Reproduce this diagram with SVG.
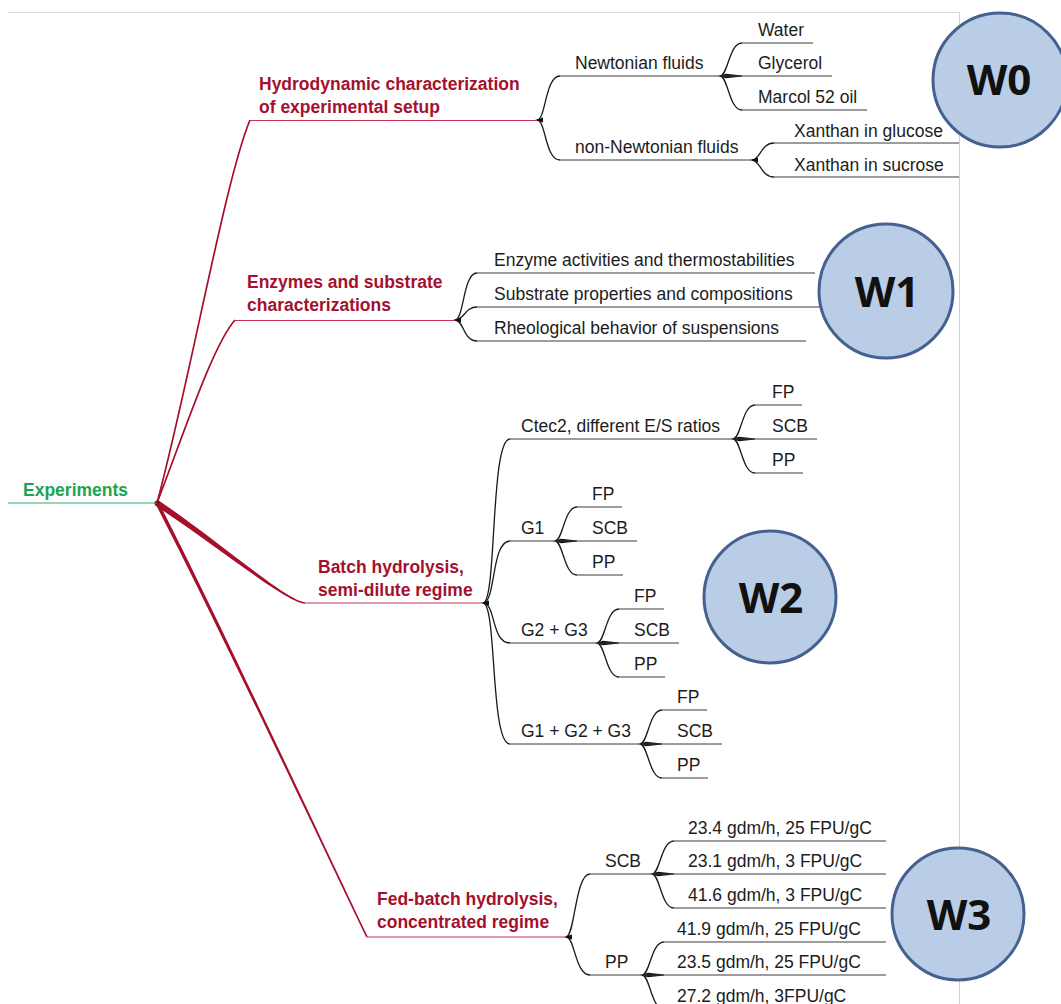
<svg xmlns="http://www.w3.org/2000/svg" width="1061" height="1004" viewBox="0 0 1061 1004">
<style>
.t{font-family:"Liberation Sans",Arial,sans-serif;font-size:17.5px;fill:#1c1c1c}
.m{font-family:"Liberation Sans",Arial,sans-serif;font-size:17.5px;font-weight:bold;fill:#a3112e}
.r{font-family:"Liberation Sans",Arial,sans-serif;font-size:17.5px;font-weight:bold;fill:#1aa550}
.u{stroke:#3a3a3a;stroke-width:1;fill:none}
.mu{stroke:#c43658;stroke-width:1.2;fill:none}
.cv{stroke:#1a1a1a;stroke-width:1.3;fill:none}
.rb{stroke:#a50f2b;fill:none}
.rf{fill:#a50f2b}
.wg{fill:#111}
.wc{fill:#b9cde6;stroke:#44618f;stroke-width:3}
.wt{font-family:"Open Sans","Liberation Sans",sans-serif;font-weight:700;font-size:42px;fill:#111;text-anchor:middle}
</style>
<rect width="1061" height="1004" fill="#fff"/>
<g id="frame">
<line x1="8" y1="12.5" x2="959" y2="12.5" stroke="#dcdcdc" stroke-width="1"/>
<line x1="959.5" y1="12" x2="959.5" y2="1004" stroke="#d0d0d0" stroke-width="1"/>
</g>

<g id="connectors">
<!-- root branches -->
<path class="rb" stroke-width="1.7" d="M157,503 C190,380 225,180 250,120"/>
<path class="rb" stroke-width="1.7" d="M157,503 C185,430 213,345 235,320"/>
<path class="rf" d="M158.7,500.5 C221.4,542.9 285.1,600 305,602.3 L305,603.7 C284.9,602 218.6,547.1 155.3,505.5 Z"/>
<path class="rf" d="M158.6,502.2 C216.4,614.3 330.7,859.6 367.7,936.6 L366.3,937.4 C329.3,860.4 213.6,615.7 155.4,503.8 Z"/>
<circle cx="157" cy="503" r="2.6" fill="#8c0a22"/>

<!-- hydro fork -->
<path class="cv" d="M537,120 C546,120 545,76 560,76"/>
<path class="cv" d="M537,120 C546,120 545,160 560,160"/>
<path class="wg" d="M535,120 L543,117.5 L543,122.5 Z"/>
<!-- newtonian fork -->
<path class="cv" d="M720,76 C728,76 729,43 742,43"/>
<path class="cv" d="M720,76 C728,76 729,110 742,110"/>
<path class="wg" d="M718,76 L726,73.8 L742,75.4 L742,76.6 L726,78.2 Z"/>
<!-- non-newtonian fork -->
<path class="cv" d="M752,160 C760,160 761,143 774,143"/>
<path class="cv" d="M752,160 C760,160 761,177 774,177"/>
<path class="wg" d="M750,160 L758,157.8 L758,162.2 Z"/>

<!-- enzymes fork -->
<path class="cv" d="M455,320 C464,320 463,273 477,273"/>
<path class="cv" d="M455,320 C464,320 465,307 477,307"/>
<path class="cv" d="M455,320 C464,320 463,341 477,341"/>
<path class="wg" d="M453,320 L461,317.5 L461,322.5 Z"/>

<!-- batch fork -->
<path class="cv" d="M483,603 C497,603 490,439 510,439"/>
<path class="cv" d="M483,603 C496,603 491,541 510,541"/>
<path class="cv" d="M483,603 C496,603 491,643 510,643"/>
<path class="cv" d="M483,603 C497,603 490,744 510,744"/>
<path class="wg" d="M481,603 L489,600.5 L489,605.5 Z"/>
<!-- ctec2 fork -->
<path class="cv" d="M733,439 C741,439 742,405 755,405"/>
<path class="cv" d="M733,439 C741,439 742,473 755,473"/>
<path class="wg" d="M731,439 L739,436.8 L755,438.4 L755,439.6 L739,441.2 Z"/>
<!-- g1 fork -->
<path class="cv" d="M555,541 C563,541 564,507 577,507"/>
<path class="cv" d="M555,541 C563,541 564,575 577,575"/>
<path class="wg" d="M553,541 L561,538.8 L577,540.4 L577,541.6 L561,543.2 Z"/>
<!-- g2g3 fork -->
<path class="cv" d="M597,643 C605,643 606,609 619,609"/>
<path class="cv" d="M597,643 C605,643 606,677 619,677"/>
<path class="wg" d="M595,643 L603,640.8 L619,642.4 L619,643.6 L603,645.2 Z"/>
<!-- g1g2g3 fork -->
<path class="cv" d="M640,744 C648,744 649,710 662,710"/>
<path class="cv" d="M640,744 C648,744 649,778 662,778"/>
<path class="wg" d="M638,744 L646,741.8 L662,743.4 L662,744.6 L646,746.2 Z"/>

<!-- fed-batch fork -->
<path class="cv" d="M566,937 C575,937 575,874 590,874"/>
<path class="cv" d="M566,937 C575,937 575,975 590,975"/>
<path class="wg" d="M564,937 L572,934.5 L572,939.5 Z"/>
<!-- scb fork -->
<path class="cv" d="M652,874 C660,874 661,841 674,841"/>
<path class="cv" d="M652,874 C660,874 661,908 674,908"/>
<path class="wg" d="M650,874 L658,871.8 L674,873.4 L674,874.6 L658,876.2 Z"/>
<!-- pp fork -->
<path class="cv" d="M642,975 C650,975 651,942 664,942"/>
<path class="cv" d="M642,975 C650,975 651,1009 664,1009"/>
<path class="wg" d="M640,975 L648,972.8 L664,974.4 L664,975.6 L648,977.2 Z"/>
</g>

<g id="n-root">
<line x1="8" y1="503" x2="157" y2="503" stroke="#2bb36a" stroke-width="1.2"/>
<text class="r" x="23" y="496">Experiments</text>
</g>

<g id="n-hydro">
<line class="mu" x1="250" y1="120.5" x2="537" y2="120.5"/>
<text class="m" x="259" y="90">Hydrodynamic characterization</text>
<text class="m" x="259" y="113">of experimental setup</text>
</g>
<g id="n-newtonian"><line class="u" x1="560" y1="76" x2="720" y2="76"/><text class="t" x="575" y="69">Newtonian fluids</text></g>
<g id="n-water"><line class="u" x1="742" y1="43" x2="813" y2="43"/><text class="t" x="758" y="36">Water</text></g>
<g id="n-glycerol"><line class="u" x1="720" y1="76" x2="832" y2="76"/><text class="t" x="758" y="69">Glycerol</text></g>
<g id="n-marcol"><line class="u" x1="742" y1="110" x2="867" y2="110"/><text class="t" x="758" y="103">Marcol 52 oil</text></g>
<g id="n-nonnewtonian"><line class="u" x1="560" y1="160" x2="752" y2="160"/><text class="t" x="575" y="153">non-Newtonian fluids</text></g>
<g id="n-xglucose"><line class="u" x1="774" y1="143" x2="959" y2="143"/><text class="t" x="794" y="137">Xanthan in glucose</text></g>
<g id="n-xsucrose"><line class="u" x1="774" y1="177" x2="959" y2="177"/><text class="t" x="794" y="171">Xanthan in sucrose</text></g>

<g id="n-enzymes">
<line class="mu" x1="235" y1="320.5" x2="455" y2="320.5"/>
<text class="m" x="247" y="288">Enzymes and substrate</text>
<text class="m" x="247" y="311">characterizations</text>
</g>
<g id="n-enzact"><line class="u" x1="477" y1="273" x2="815" y2="273"/><text class="t" x="494" y="266">Enzyme activities and thermostabilities</text></g>
<g id="n-subprop"><line class="u" x1="477" y1="307" x2="820" y2="307"/><text class="t" x="494" y="300">Substrate properties and compositions</text></g>
<g id="n-rheo"><line class="u" x1="477" y1="341" x2="806" y2="341"/><text class="t" x="494" y="334">Rheological behavior of suspensions</text></g>

<g id="n-batch">
<line class="mu" x1="305" y1="603" x2="483" y2="603"/>
<text class="m" x="318" y="573">Batch hydrolysis,</text>
<text class="m" x="318" y="596">semi-dilute regime</text>
</g>
<g id="n-ctec2"><line class="u" x1="510" y1="439" x2="733" y2="439"/><text class="t" x="521" y="432">Ctec2, different E/S ratios</text></g>
<g id="n-ctec2-fp"><line class="u" x1="755" y1="405" x2="802" y2="405"/><text class="t" x="772" y="398">FP</text></g>
<g id="n-ctec2-scb"><line class="u" x1="733" y1="439" x2="817" y2="439"/><text class="t" x="772" y="432">SCB</text></g>
<g id="n-ctec2-pp"><line class="u" x1="755" y1="473" x2="803" y2="473"/><text class="t" x="772" y="466">PP</text></g>
<g id="n-g1"><line class="u" x1="510" y1="541" x2="555" y2="541"/><text class="t" x="521" y="534">G1</text></g>
<g id="n-g1-fp"><line class="u" x1="577" y1="507" x2="622" y2="507"/><text class="t" x="592" y="500">FP</text></g>
<g id="n-g1-scb"><line class="u" x1="555" y1="541" x2="637" y2="541"/><text class="t" x="592" y="534">SCB</text></g>
<g id="n-g1-pp"><line class="u" x1="577" y1="575" x2="623" y2="575"/><text class="t" x="592" y="568">PP</text></g>
<g id="n-g2g3"><line class="u" x1="510" y1="643" x2="597" y2="643"/><text class="t" x="521" y="636">G2 + G3</text></g>
<g id="n-g2g3-fp"><line class="u" x1="619" y1="609" x2="664" y2="609"/><text class="t" x="634" y="602">FP</text></g>
<g id="n-g2g3-scb"><line class="u" x1="597" y1="643" x2="679" y2="643"/><text class="t" x="634" y="636">SCB</text></g>
<g id="n-g2g3-pp"><line class="u" x1="619" y1="677" x2="665" y2="677"/><text class="t" x="634" y="670">PP</text></g>
<g id="n-g123"><line class="u" x1="510" y1="744" x2="640" y2="744"/><text class="t" x="521" y="737">G1 + G2 + G3</text></g>
<g id="n-g123-fp"><line class="u" x1="662" y1="710" x2="707" y2="710"/><text class="t" x="677" y="703">FP</text></g>
<g id="n-g123-scb"><line class="u" x1="640" y1="744" x2="722" y2="744"/><text class="t" x="677" y="737">SCB</text></g>
<g id="n-g123-pp"><line class="u" x1="662" y1="778" x2="708" y2="778"/><text class="t" x="677" y="771">PP</text></g>

<g id="n-fed">
<line class="mu" x1="367" y1="937" x2="566" y2="937"/>
<text class="m" x="377" y="905">Fed-batch hydrolysis,</text>
<text class="m" x="377" y="928">concentrated regime</text>
</g>
<g id="n-fed-scb"><line class="u" x1="590" y1="874" x2="652" y2="874"/><text class="t" x="605" y="867">SCB</text></g>
<g id="n-scb-1"><line class="u" x1="674" y1="841" x2="886" y2="841"/><text class="t" x="688" y="834">23.4 gdm/h, 25 FPU/gC</text></g>
<g id="n-scb-2"><line class="u" x1="652" y1="874" x2="886" y2="874"/><text class="t" x="688" y="867">23.1 gdm/h, 3 FPU/gC</text></g>
<g id="n-scb-3"><line class="u" x1="674" y1="908" x2="886" y2="908"/><text class="t" x="688" y="901">41.6 gdm/h, 3 FPU/gC</text></g>
<g id="n-fed-pp"><line class="u" x1="590" y1="975" x2="642" y2="975"/><text class="t" x="605" y="968">PP</text></g>
<g id="n-pp-1"><line class="u" x1="664" y1="942" x2="886" y2="942"/><text class="t" x="677" y="935">41.9 gdm/h, 25 FPU/gC</text></g>
<g id="n-pp-2"><line class="u" x1="642" y1="975" x2="886" y2="975"/><text class="t" x="677" y="968">23.5 gdm/h, 25 FPU/gC</text></g>
<g id="n-pp-3"><line class="u" x1="664" y1="1009" x2="886" y2="1009"/><text class="t" x="677" y="1002">27.2 gdm/h, 3FPU/gC</text></g>

<g id="w0"><circle class="wc" cx="1000" cy="80" r="67"/><text class="wt" x="999" y="95">W0</text></g>
<g id="w1"><circle class="wc" cx="886" cy="291" r="67"/><text class="wt" x="887" y="307">W1</text></g>
<g id="w2"><circle class="wc" cx="770" cy="597" r="66"/><text class="wt" x="771" y="613">W2</text></g>
<g id="w3"><circle class="wc" cx="958" cy="914" r="66"/><text class="wt" x="959" y="930">W3</text></g>
</svg>
